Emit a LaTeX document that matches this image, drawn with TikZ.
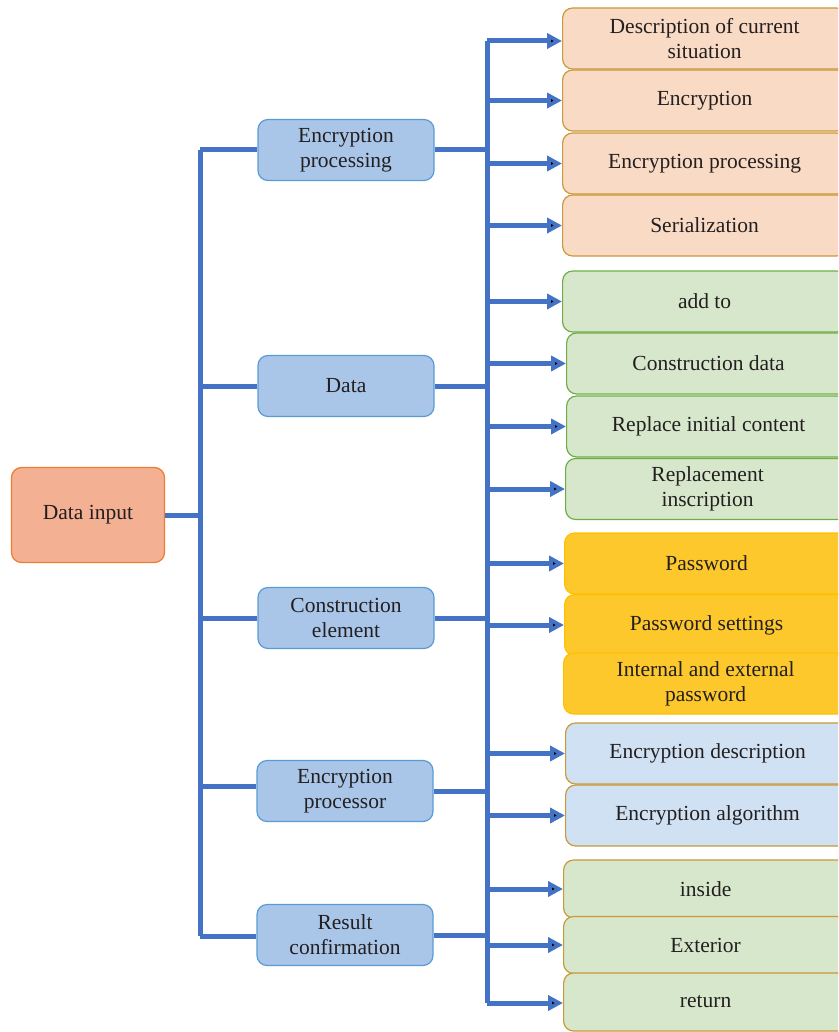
\documentclass[tikz,border=0pt]{standalone}
\usepackage{fontspec}
\setmainfont{Liberation Serif}
\usetikzlibrary{arrows.meta, positioning, calc}

\definecolor{busblue}{HTML}{4472C4}
\definecolor{midfill}{HTML}{A9C6E8}
\definecolor{midline}{HTML}{5B9BD5}
\definecolor{inputfill}{HTML}{F4B092}
\definecolor{inputline}{HTML}{ED7D31}
\definecolor{peachfill}{HTML}{F9DAC4}
\definecolor{goldline}{HTML}{C9993A}
\definecolor{greenfill}{HTML}{D6E7CB}
\definecolor{greenline}{HTML}{70AD47}
\definecolor{yellowfill}{HTML}{FDC82B}
\definecolor{yellowline}{HTML}{FFC000}
\definecolor{paleblue}{HTML}{D0E1F3}
\definecolor{inktext}{HTML}{231F20}

\begin{document}
\begin{tikzpicture}[x=1pt, y=-1pt, font=\fontsize{21.5}{25}\selectfont, text=inktext]
    \tikzstyle{box}=[rectangle, rounded corners=10pt, line width=1.2pt, align=center, inner sep=0pt]
    \tikzstyle{mid}=[box, fill=midfill, draw=midline, minimum width=176pt, minimum height=61pt]
    \tikzstyle{leaf}=[box, anchor=west, minimum width=284pt, minimum height=61pt]
    \tikzstyle{bus}=[draw=busblue, line width=5pt]
    \tikzstyle{tip}=[-{Triangle[length=15pt, width=15pt]}]

    \useasboundingbox (0,0) rectangle (838,1032);
    \clip (0,0) rectangle (838,1032);

    \node[box, fill=inputfill, draw=inputline, minimum width=153pt, minimum height=95pt] (input) at (88,515) {Data input};

    \node[mid] (encproc) at (346,150) {Encryption\\processing};
    \node[mid] (data) at (346,386) {Data};
    \node[mid] (constr) at (346,618) {Construction\\element};
    \node[mid] (encpro) at (345,791) {Encryption\\processor};
    \node[mid] (result) at (345,935) {Result\\confirmation};

    \node[leaf, fill=peachfill, draw=goldline] (desc) at (562,38.5) {Description of current\\situation};
    \node[leaf, fill=peachfill, draw=goldline] (encr) at (562,100.5) {Encryption};
    \node[leaf, fill=peachfill, draw=goldline] (encp) at (562,163.5) {Encryption processing};
    \node[leaf, fill=peachfill, draw=goldline] (serial) at (562,225.5) {Serialization};

    \node[leaf, fill=greenfill, draw=greenline] (addto) at (562,301.5) {add to};
    \node[leaf, fill=greenfill, draw=greenline] (cdata) at (566,363.5) {Construction data};
    \node[leaf, fill=greenfill, draw=greenline] (replace) at (566,426.5) {Replace initial content};
    \node[leaf, fill=greenfill, draw=greenline] (inscr) at (565,489) {Replacement\\inscription};

    \node[leaf, fill=yellowfill, draw=yellowline] (pw) at (564,563.5) {Password};
    \node[leaf, fill=yellowfill, draw=yellowline] (pwset) at (564,625) {Password settings};
    \node[leaf, fill=yellowfill, draw=yellowline] (pwie) at (563,683.5) {Internal and external\\password};

    \node[leaf, fill=paleblue, draw=goldline] (edesc) at (565,753.5) {Encryption description};
    \node[leaf, fill=paleblue, draw=goldline] (ealg) at (565,815.5) {Encryption algorithm};

    \node[leaf, fill=greenfill, draw=goldline, minimum height=58pt] (inside) at (563,889) {inside};
    \node[leaf, fill=greenfill, draw=goldline, minimum height=57pt] (exter) at (563,945) {Exterior};
    \node[leaf, fill=greenfill, draw=goldline, minimum height=58pt] (ret) at (563,1002) {return};

    % left bus
    \coordinate (lt) at (200,150);
    \coordinate (lb) at (200,936);
    \draw[bus] (lt) -- (lb);
    \draw[bus] (input.east) -- (input.east -| lt);
    \draw[bus] (lt) -- (encproc.west);
    \draw[bus] (data.west -| lt) -- (data.west);
    \draw[bus] (constr.west -| lt) -- (constr.west);
    \draw[bus] ($(encpro.west -| lt)+(0,-5)$) -- ($(encpro.west)+(0,-5)$);
    \draw[bus] (lb) -- (lb -| result.west);

    % right bus
    \coordinate (rt) at (487,41);
    \coordinate (rb) at (487,1003);
    \draw[bus] (rt) -- (rb);
    \draw[bus] (encproc.east) -- (encproc.east -| rt);
    \draw[bus] (data.east) -- (data.east -| rt);
    \draw[bus] (constr.east) -- (constr.east -| rt);
    \draw[bus] (encpro.east) -- (encpro.east -| rt);
    \draw[bus] (result.east) -- (result.east -| rt);

    \path[bus]
    (rt) edge[tip] (rt -| desc.west)
    (rt |- encr.west) edge[tip] (encr.west)
    (rt |- encp.west) edge[tip] (encp.west)
    (rt |- serial.west) edge[tip] (serial.west)
    (rt |- addto.west) edge[tip] (addto.west)
    (rt |- cdata.west) edge[tip] (cdata.west)
    (rt |- replace.west) edge[tip] (replace.west)
    (rt |- inscr.west) edge[tip] (inscr.west)
    (rt |- pw.west) edge[tip] (pw.west)
    (rt |- pwset.west) edge[tip] (pwset.west)
    (rt |- edesc.west) edge[tip] (edesc.west)
    (rt |- ealg.west) edge[tip] (ealg.west)
    (rt |- inside.west) edge[tip] (inside.west)
    (rt |- exter.west) edge[tip] (exter.west)
    (rb) edge[tip] (rb -| ret.west);
\end{tikzpicture}
\end{document}
